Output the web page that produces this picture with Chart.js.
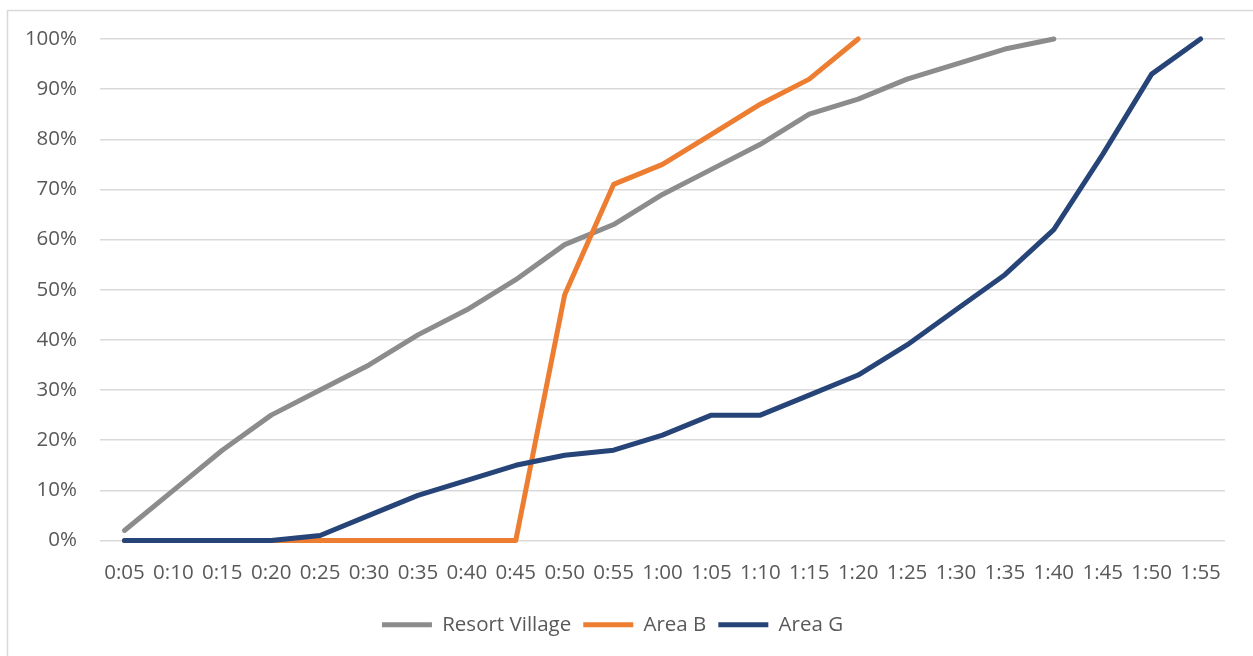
<!DOCTYPE html>
<html>
<head>
<meta charset="utf-8">
<script src="https://cdn.jsdelivr.net/npm/chart.js@4/dist/chart.umd.min.js"></script>
<style>
  html, body { margin: 0; padding: 0; background: #ffffff; overflow: hidden; }
  #wrap { position: relative; width: 1253px; height: 656px; }
</style>
</head>
<body>
<div id="wrap"><canvas id="chart" width="1253" height="656"></canvas></div>
<script>
// Elapsed-time categories (h:mm)
const timeLabels = ['0:05','0:10','0:15','0:20','0:25','0:30','0:35','0:40','0:45','0:50','0:55','1:00',
                    '1:05','1:10','1:15','1:20','1:25','1:30','1:35','1:40','1:45','1:50','1:55'];

// Cumulative share completed, percent
const resortVillage = [2, 10, 18, 25, 30, 35, 41, 46, 52, 59, 63, 69, 74, 79, 85, 88, 92, 95, 98, 100, null, null, null];
const areaB         = [0, 0, 0, 0, 0, 0, 0, 0, 0, 49, 71, 75, 81, 87, 92, 100, null, null, null, null, null, null, null];
const areaG         = [0, 0, 0, 0, 1, 5, 9, 12, 15, 17, 18, 21, 25, 25, 29, 33, 39, 46, 53, 62, 77, 93, 100];

const yTicks = [0, 10, 20, 30, 40, 50, 60, 70, 80, 90, 100];

const FONT = { family: '"Open Sans", "Liberation Sans", sans-serif', size: 20.5 };
const TEXT = '#595959';
const GRID = '#d9d9d9';

// Outer frame of the chart object
const framePlugin = {
  id: 'frame',
  beforeDraw(chart) {
    const ctx = chart.ctx;
    ctx.save();
    ctx.fillStyle = '#ffffff';
    ctx.fillRect(0, 0, chart.width, chart.height);
    ctx.strokeStyle = GRID;
    ctx.lineWidth = 1.5;
    ctx.beginPath();
    ctx.moveTo(7.5, chart.height);
    ctx.lineTo(7.5, 10.5);
    ctx.lineTo(chart.width, 10.5);
    ctx.stroke();
    ctx.restore();
  }
};

const lineStyle = (color, order) => ({
  borderColor: color,
  backgroundColor: color,
  borderWidth: 5,
  borderCapStyle: 'round',
  borderJoinStyle: 'round',
  pointRadius: 0,
  pointHoverRadius: 0,
  tension: 0,
  fill: false,
  spanGaps: false,
  clip: false,
  order: order
});

new Chart(document.getElementById('chart'), {
  type: 'line',
  data: {
    labels: timeLabels,
    datasets: [
      Object.assign({ label: 'Resort Village', data: resortVillage }, lineStyle('#8c8c8c', 3)),
      Object.assign({ label: 'Area B', data: areaB }, lineStyle('#ed7d31', 2)),
      Object.assign({ label: 'Area G', data: areaG }, lineStyle('#264478', 1))
    ]
  },
  options: {
    responsive: false,
    animation: false,
    events: [],
    layout: { padding: { left: 0, right: 28, top: 39, bottom: 11 } },
    plugins: {
      tooltip: { enabled: false },
      legend: {
        position: 'bottom',
        labels: {
          usePointStyle: true,
          pointStyle: 'line',
          pointStyleWidth: 50,
          padding: 12,
          color: TEXT,
          font: FONT,
          sort: (a, b) => a.datasetIndex - b.datasetIndex
        }
      }
    },
    scales: {
      x: {
        offset: true,
        grid: { display: false },
        border: { display: false },
        ticks: { color: TEXT, font: FONT, padding: 12, maxRotation: 0, autoSkip: false },
        afterFit(scale) { scale.height = 62; }
      },
      y: {
        min: 0,
        max: 100,
        afterBuildTicks(scale) { scale.ticks = yTicks.map(v => ({ value: v })); },
        grid: { color: GRID, lineWidth: 1.5, drawTicks: false },
        border: { display: false },
        ticks: { color: TEXT, font: FONT, padding: 23, callback: v => v + '%' },
        afterFit(scale) { scale.width = 100; }
      }
    }
  },
  plugins: [framePlugin]
});
</script>
</body>
</html>
